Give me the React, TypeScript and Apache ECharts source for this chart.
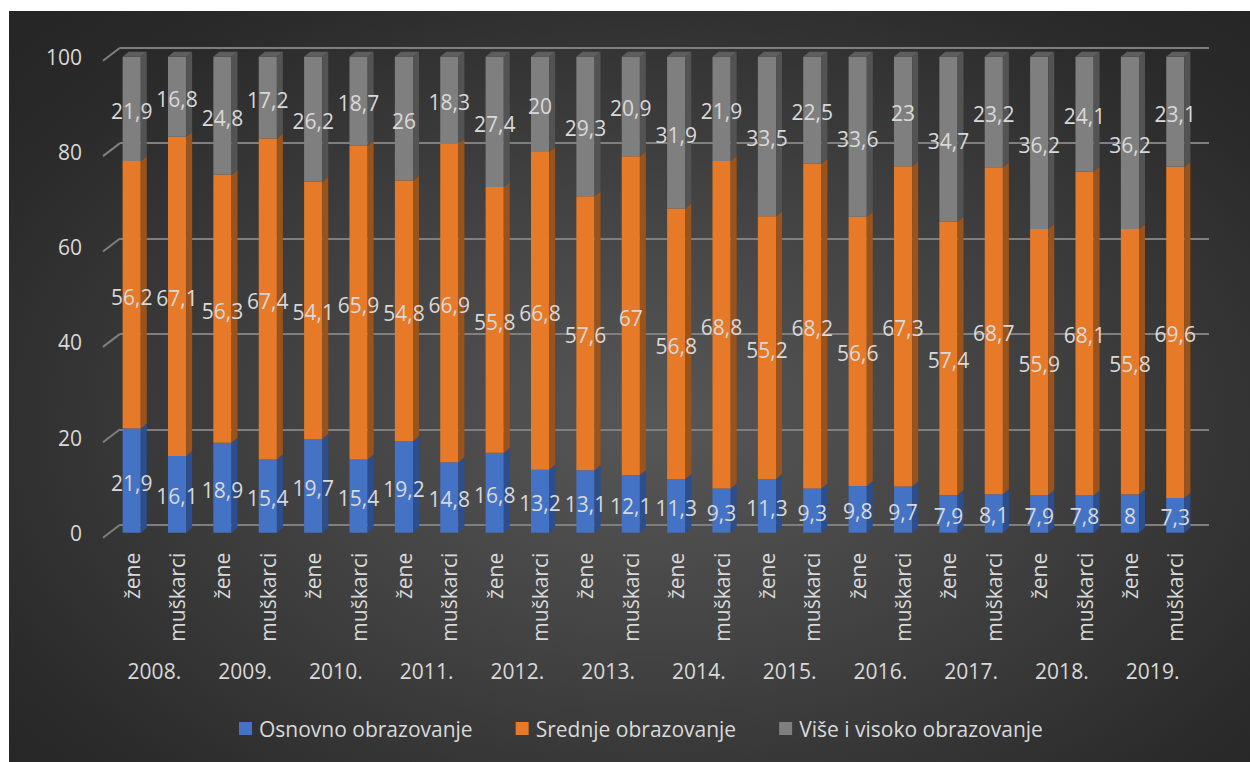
import React, { useEffect, useRef } from "react";
import * as echarts from "echarts";

const years = ["2008.", "2009.", "2010.", "2011.", "2012.", "2013.", "2014.", "2015.", "2016.", "2017.", "2018.", "2019."];
const genders = ["žene", "muškarci"];
const categories = years.flatMap(() => genders);

const osnovno = [21.9, 16.1, 18.9, 15.4, 19.7, 15.4, 19.2, 14.8, 16.8, 13.2, 13.1, 12.1, 11.3, 9.3, 11.3, 9.3, 9.8, 9.7, 7.9, 8.1, 7.9, 7.8, 8, 7.3];
const srednje = [56.2, 67.1, 56.3, 67.4, 54.1, 65.9, 54.8, 66.9, 55.8, 66.8, 57.6, 67, 56.8, 68.8, 55.2, 68.2, 56.6, 67.3, 57.4, 68.7, 55.9, 68.1, 55.8, 69.6];
const vise = [21.9, 16.8, 24.8, 17.2, 26.2, 18.7, 26, 18.3, 27.4, 20, 29.3, 20.9, 31.9, 21.9, 33.5, 22.5, 33.6, 23, 34.7, 23.2, 36.2, 24.1, 36.2, 23.1];

const seriesNames = ["Osnovno obrazovanje", "Srednje obrazovanje", "Više i visoko obrazovanje"];
const yTicks = [0, 20, 40, 60, 80, 100];

const stacks = [osnovno, srednje, vise];
const frontColors = ["#4472C4", "#E67A28", "#7F7F7F"];
const sideColors = ["#2C4E8C", "#9B531C", "#535353"];
const topColors = ["#3A62A8", "#C4681F", "#5E5E5E"];
const FONT = "'Open Sans', 'Noto Sans', sans-serif";
const FS = 21;
const TXT = "#D9D9D9";
const DX = 6;
const DY = 5;

function stackData(k: number) {
  return categories.map((_, i) => {
    let base = 0;
    for (let j = 0; j < k; j++) base += stacks[j][i];
    return [i, base, base + stacks[k][i], stacks[k][i]];
  });
}

export default function App() {
  const ref = useRef<HTMLDivElement>(null);
  useEffect(() => {
    if (!ref.current) return;
    const chart = echarts.init(ref.current, null, { renderer: "svg" });

    const barSeries = stacks.map((_, k) => ({
      type: "custom",
      name: seriesNames[k],
      xAxisIndex: 0,
      yAxisIndex: 0,
      clip: false,
      z: 3,
      itemStyle: { color: frontColors[k] },
      data: stackData(k),
      encode: { x: 0, y: [1, 2] },
      renderItem: (params: any, api: any) => {
        const i = api.value(0);
        const lo = api.value(1);
        const hi = api.value(2);
        const pLo = api.coord([i, lo]);
        const pHi = api.coord([i, hi]);
        const w = api.size([1, 0])[0] * 0.4;
        const x0 = pLo[0] - w / 2;
        const x1 = pLo[0] + w / 2;
        const yT = pHi[1];
        const yB = pLo[1];
        const children: any[] = [
          { type: "rect", shape: { x: x0, y: yT, width: w, height: yB - yT }, style: { fill: frontColors[k] } },
          {
            type: "polygon",
            shape: { points: [[x1, yT], [x1 + DX, yT - DY], [x1 + DX, yB - DY], [x1, yB]] },
            style: { fill: sideColors[k] },
          },
        ];
        if (k === stacks.length - 1) {
          children.push({
            type: "polygon",
            shape: { points: [[x0, yT], [x1, yT], [x1 + DX, yT - DY], [x0 + DX, yT - DY]] },
            style: { fill: topColors[k] },
          });
        }
        return { type: "group", children };
      },
    }));

    const labelSeries = stacks.map((_, k) => ({
      type: "custom",
      xAxisIndex: 0,
      yAxisIndex: 0,
      clip: false,
      z: 6,
      silent: true,
      data: stackData(k),
      encode: { x: 0, y: [1, 2] },
      renderItem: (params: any, api: any) => {
        const i = api.value(0);
        const lo = api.value(1);
        const hi = api.value(2);
        const v = api.value(3);
        const pLo = api.coord([i, lo]);
        const pHi = api.coord([i, hi]);
        return {
          type: "text",
          style: {
            text: String(v).replace(".", ","),
            x: pLo[0],
            y: (pLo[1] + pHi[1]) / 2 + 2,
            align: "center",
            verticalAlign: "middle",
            fill: TXT,
            fontSize: FS,
            fontFamily: FONT,
          },
        };
      },
    }));

    const wallSeries = {
      type: "custom",
      xAxisIndex: 1,
      yAxisIndex: 1,
      clip: false,
      z: 1,
      silent: true,
      data: yTicks.map((v) => [0, v]),
      encode: { x: 0, y: 1 },
      renderItem: (params: any, api: any) => {
        const p = api.coord([0, api.value(1)]);
        return {
          type: "line",
          shape: { x1: p[0], y1: p[1], x2: p[0] - 17, y2: p[1] + 13 },
          style: { stroke: "#7F7F7F", lineWidth: 2 },
        };
      },
    };

    chart.setOption({
      animation: false,
      legend: {
        data: seriesNames,
        left: 225,
        top: 702,
        icon: "rect",
        itemWidth: 13,
        itemHeight: 13,
        itemGap: 43,
        textStyle: { color: TXT, fontSize: FS, fontFamily: FONT, padding: [0, 0, 0, 2] },
      },
      grid: [
        { left: 100, width: 1089, top: 45.7, height: 476 },
        { left: 111, right: 41, top: 36.7, height: 477 },
      ],
      xAxis: [
        {
          type: "category",
          gridIndex: 0,
          data: categories,
          axisLine: { show: false },
          axisTick: { show: false },
          axisLabel: { interval: 0, rotate: 90, margin: 20, color: TXT, fontSize: FS, fontFamily: FONT },
        },
        { type: "value", gridIndex: 1, min: 0, max: 1, show: false },
        {
          type: "category",
          gridIndex: 0,
          position: "bottom",
          offset: 120,
          data: years,
          axisLine: { show: false },
          axisTick: { show: false },
          axisLabel: { interval: 0, margin: 8, color: TXT, fontSize: FS, fontFamily: FONT },
        },
      ],
      yAxis: [
        {
          type: "value",
          gridIndex: 0,
          min: 0,
          max: 100,
          interval: 20,
          axisLine: { show: false },
          axisTick: { show: false },
          splitLine: { show: false },
          axisLabel: { margin: 27, padding: [9, 0, 0, 0], color: TXT, fontSize: FS, fontFamily: FONT },
        },
        {
          type: "value",
          gridIndex: 1,
          min: 0,
          max: 100,
          interval: 20,
          axisLine: { show: false },
          axisTick: { show: false },
          axisLabel: { show: false },
          splitLine: { lineStyle: { color: "#7F7F7F", width: 2 } },
        },
      ],
      series: [wallSeries, ...barSeries, ...labelSeries],
    });
    return () => chart.dispose();
  }, []);

  return (
    <div
      ref={ref}
      style={{
        position: "absolute",
        left: 9,
        top: 11,
        width: 1241,
        height: 751,
        background: "radial-gradient(ellipse 70% 75% at 52% 55%, #575757 0%, #434343 40%, #2a2a2a 85%, #262626 100%)",
      }}
    />
  );
}
